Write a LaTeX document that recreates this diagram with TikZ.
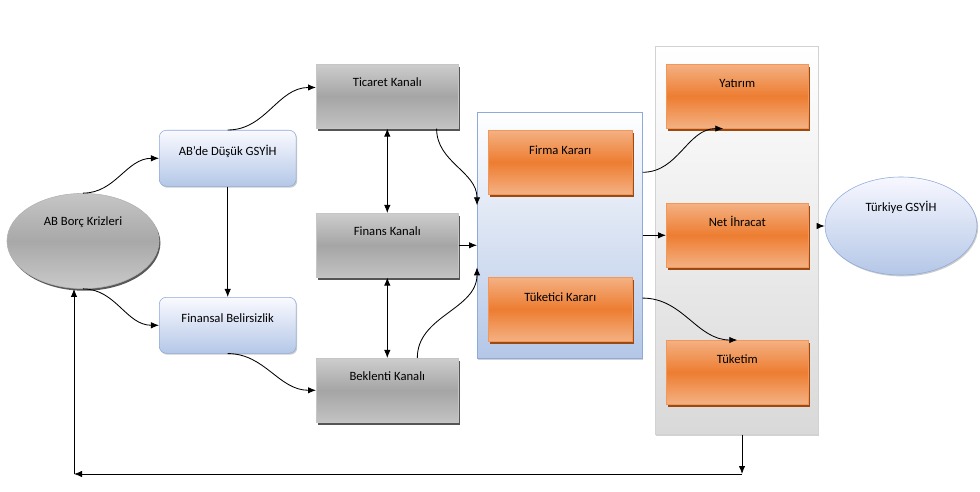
\documentclass[tikz,border=0pt]{standalone}
\usepackage{fontspec}
\setmainfont{Carlito}
\usetikzlibrary{shapes.geometric, arrows.meta, positioning, shadows}

\definecolor{grayhi}{HTML}{CDCDCD}
\definecolor{graymid}{HTML}{A5A5A5}
\definecolor{grayshade}{HTML}{555555}
\definecolor{orangehi}{HTML}{F4B183}
\definecolor{orangemid}{HTML}{ED7D31}
\definecolor{orangeshade}{HTML}{9C4A12}
\definecolor{bluelo}{HTML}{B4C7E7}
\definecolor{blueedge}{HTML}{8EAADB}

\begin{document}
\begin{tikzpicture}[
    x=0.025cm, y=0.025cm,
    font=\fontsize{9}{11}\selectfont,
    % Style definitions
    channel/.style={rectangle, anchor=north west, minimum width=3.55cm, inner sep=0pt,
                    text height=0.55cm, text depth=1.05cm, draw=gray!45,
                    top color=grayhi, bottom color=grayhi!95!black, middle color=graymid,
                    general shadow={fill=grayshade, shadow xshift=1pt, shadow yshift=-2.2pt}},
    choice/.style={rectangle, anchor=north west, minimum width=3.6cm, inner sep=0pt,
                   text height=0.6cm, text depth=1.0cm, draw=orangemid!80,
                   top color=orangehi, bottom color=orangehi, middle color=orangemid,
                   general shadow={fill=orangeshade, shadow xshift=1pt, shadow yshift=-2pt}},
    effect/.style={rectangle, rounded corners=5pt, anchor=north west, minimum width=3.42cm,
                   inner sep=0pt, text height=0.62cm, text depth=0.78cm, draw=blueedge,
                   top color=blue!2, bottom color=bluelo,
                   general shadow={fill=gray!40, shadow xshift=0.8pt, shadow yshift=-1pt}},
    group/.style={rectangle, anchor=north west, inner sep=0pt, draw=#1, 
                  general shadow={fill=gray!35, shadow xshift=0.8pt, shadow yshift=-1.5pt}},
    shock/.style={ellipse, minimum width=3.8cm, inner sep=0pt},
    arrow/.style={-{Latex[length=2mm, width=1.6mm]}, line width=0.6pt},
    twoway/.style={{Latex[length=2mm, width=1.6mm]}-{Latex[length=2mm, width=1.6mm]}, line width=0.6pt},
]
\path[use as bounding box] (0,0) rectangle (980,-492);

% Containers
\node[group=blueedge, top color=white, bottom color=bluelo, minimum width=4.125cm,
      minimum height=6.15cm] (decisions) at (477,-112) {};
\node[group=gray!35, top color=white, bottom color=gray!30, minimum width=4.075cm,
      minimum height=9.7cm] (outcomes) at (655,-46) {};

% Shock and first effects
\node[shock, minimum height=2.38cm, text height=0.2cm, text depth=0.95cm, draw=gray!60,
      top color=gray!45, bottom color=gray!42, middle color=gray!68,
      general shadow={fill=gray!70!black, shadow xshift=1pt, shadow yshift=-1.5pt}]
      (crisis) at (83,-241) {AB Borç Krizleri};
\node[effect] (lowgdp) at (159,-130) {AB'de Düşük GSYİH};
\node[effect] (uncert) at (159,-297) {Finansal Belirsizlik};

% Channels
\node[channel] (trade) at (316,-64) {Ticaret Kanalı};
\node[channel] (finance) at (316,-213) {Finans Kanalı};
\node[channel] (expect) at (316,-358) {Beklenti Kanalı};

% Decisions
\node[choice] (firm) at (488,-130) {Firma Kararı};
\node[choice] (consumer) at (488,-277) {Tüketici Kararı};

% Outcomes
\node[choice, minimum width=3.55cm, text height=0.58cm, text depth=1.02cm] (invest) at (666,-64) {Yatırım};
\node[choice, minimum width=3.55cm, text height=0.58cm, text depth=1.02cm] (netexp) at (666,-203) {Net İhracat};
\node[choice, minimum width=3.55cm, text height=0.58cm, text depth=1.02cm] (consump) at (666,-340) {Tüketim};

\node[shock, minimum height=2.45cm, text height=0.2cm, text depth=0.9cm, draw=blueedge,
      top color=blue!3, bottom color=bluelo,
      general shadow={fill=gray!40, shadow xshift=0.8pt, shadow yshift=-1pt}]
      (turkey) at (901,-226) {Türkiye GSYİH};

\coordinate (loopr) at (742,-474);
\coordinate (loopl) at (74,-474);

% Arrows
\draw[arrow] (crisis.north) to[out=0, in=180] (lowgdp.west);
\draw[arrow] (crisis.south) to[out=0, in=180] (uncert.west);
\draw[arrow] (lowgdp.north) to[out=0, in=180] ([yshift=0.22cm]trade.west);
\draw[arrow] (lowgdp.south) -- (uncert.north);
\draw[arrow] (uncert.south) to[out=0, in=180] (expect.west);
\draw[twoway] (trade.south) -- (finance.north);
\draw[twoway] (finance.south) -- (expect.north);
\draw[arrow] ([xshift=-0.55cm]trade.south east) to[out=-90, in=90] ([yshift=0.75cm]decisions.west);
\draw[arrow] (finance.east) -- (finance.east -| decisions.west);
\draw[arrow] ([xshift=0.75cm]expect.north) to[out=90, in=-90] ([yshift=-0.8cm]decisions.west);
\draw[arrow] ([yshift=-0.25cm]firm.east -| decisions.east) to[out=0, in=180] ([xshift=-0.35cm]invest.south);
\draw[arrow] (decisions.east) -- (decisions.east -| netexp.west);
\draw[arrow] ([yshift=0.28cm]consumer.east -| decisions.east) to[out=0, in=180] (consump.north);
\draw[arrow] (outcomes.east |- turkey.west) -- (turkey.west);
\draw[arrow] (outcomes.south -| loopr) -- (loopr);
\draw[arrow] (loopr) -- (loopl);
\draw[arrow] (loopl) -- (crisis.south -| loopl);

\end{tikzpicture}
\end{document}
